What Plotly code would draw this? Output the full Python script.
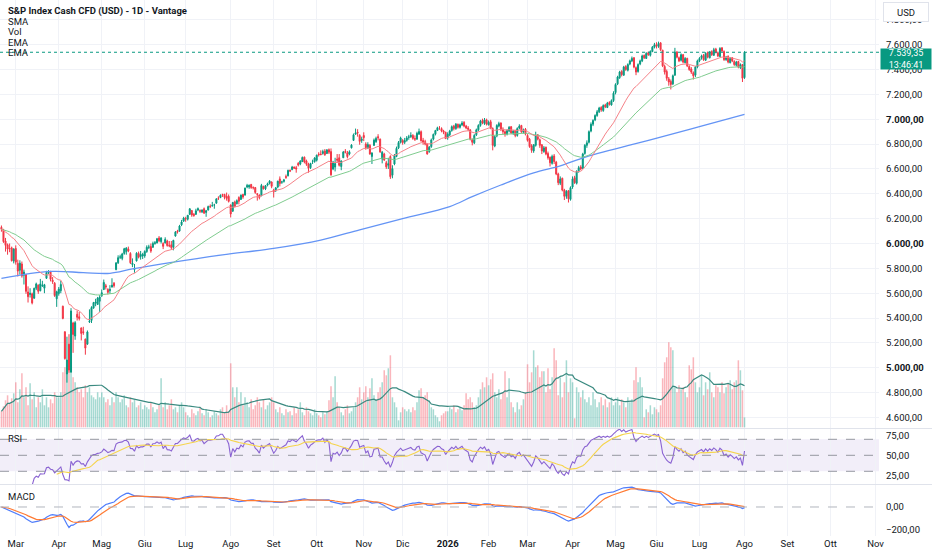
""" S&P Index Cash CFD daily chart, TradingView style, with Plotly """

import pandas as pd
import plotly.graph_objects as go

## -------------------------------------------------------------
## Data: daily bars, 20 Feb 2025 -> 3 Aug 2026

open_ = [
    6130, 6110, 6020, 5990, 5960, 5965, 5860,
    5960, 5840, 5785, 5835, 5745, 5750, 5610, 5590, 5595, 5560, 5640, 5665, 5620, 5660, 5640, 5720, 5765, 5770, 5705, 5680, 5555,
    5597, 5620, 5495, 5290, 4950, 5190, 4965, 5360, 5255, 5430, 5410, 5320, 5290, 5230, 5190, 5370, 5380, 5480, 5520, 5510, 5535,
    5580, 5630, 5660, 5630, 5620, 5650, 5680, 5790, 5845, 5890, 5880, 5920, 5935, 5955, 5920, 5830, 5790, 5860, 5920, 5895, 5900,
    5900, 5935, 5970, 5975, 5970, 6000, 6005, 6045, 6015, 6000, 6005, 6020, 5985, 5990, 5970, 6060, 6100, 6100, 6150, 6180,
    6200, 6195, 6235, 6265, 6235, 6235, 6270, 6265, 6255, 6280, 6250, 6270, 6300, 6305, 6310, 6325, 6365, 6370, 6395, 6395, 6380, 6380,
    6310, 6260, 6335, 6320, 6370, 6355, 6395, 6390, 6455, 6455, 6475, 6450, 6450, 6400, 6390, 6385, 6460, 6440, 6470, 6485, 6495,
    6430, 6430, 6455, 6520, 6495, 6500, 6540, 6545, 6590, 6595, 6615, 6610, 6645, 6640, 6660, 6695, 6665, 6640, 6610, 6660, 6660,
    6670, 6720, 6720, 6725, 6745, 6725, 6755, 6740, 6600, 6615, 6680, 6690, 6620, 6690, 6740, 6730, 6720, 6770, 6830, 6880, 6895, 6870, 6830,
    6870, 6800, 6770, 6790, 6700, 6790, 6820, 6860, 6840, 6680, 6720, 6650, 6630, 6700, 6550, 6640, 6700, 6770, 6815,
    6830, 6815, 6830, 6855, 6860, 6870, 6845, 6840, 6880, 6900, 6830, 6820, 6800, 6740, 6780, 6840, 6880, 6910, 6930, 6925, 6905, 6895,
    6850, 6875, 6910, 6945, 6925, 6960, 6935, 6955, 6975, 6945, 6930, 6915, 6835, 6810, 6875, 6915, 6950, 6990, 6965, 6995,
    6955, 6980, 6925, 6785, 6865, 6945, 6970, 6920, 6900, 6880, 6905, 6940, 6885, 6910, 6870, 6930, 6950, 6895, 6920,
    6870, 6840, 6785, 6745, 6790, 6875, 6835, 6795, 6740, 6775, 6725, 6695, 6645, 6705, 6655, 6560, 6485, 6525, 6430, 6380, 6425, 6355,
    6455, 6530, 6485, 6585, 6615, 6605, 6725, 6790, 6815, 6905, 6960, 6995, 7030, 7060, 7095, 7070, 7115, 7095, 7135, 7115, 7150,
    7215, 7285, 7335, 7385, 7355, 7425, 7395, 7445, 7470, 7495, 7415, 7385, 7445, 7470, 7515, 7490, 7535, 7515, 7545, 7580,
    7600, 7585, 7615, 7555, 7425, 7385, 7325, 7305, 7285, 7355, 7540, 7495, 7475, 7520, 7455, 7490, 7425, 7405, 7375, 7355, 7420,
    7470, 7495, 7515, 7475, 7535, 7495, 7545, 7515, 7565, 7535, 7505, 7575, 7545, 7480, 7505, 7455, 7495, 7465, 7435, 7465, 7415, 7440,
    7335,
]

high = [
    6145, 6118, 6045, 6000, 6000, 5975, 5962,
    5985, 5870, 5865, 5855, 5790, 5755, 5655, 5640, 5605, 5645, 5685, 5670, 5715, 5700, 5675, 5780, 5785, 5780, 5730, 5690, 5620,
    5650, 5700, 5500, 5292, 5250, 5270, 5480, 5370, 5375, 5460, 5450, 5325, 5330, 5235, 5300, 5470, 5495, 5530, 5555, 5570, 5585,
    5630, 5710, 5675, 5640, 5665, 5720, 5690, 5850, 5905, 5910, 5925, 5965, 5970, 5975, 5930, 5880, 5835, 5930, 5935, 5940, 5925,
    5945, 5985, 5990, 6000, 6015, 6020, 6045, 6060, 6050, 6010, 6050, 6030, 6020, 6020, 6030, 6100, 6110, 6150, 6190, 6215,
    6215, 6230, 6285, 6270, 6245, 6280, 6290, 6275, 6275, 6290, 6270, 6305, 6315, 6335, 6320, 6365, 6380, 6395, 6400, 6400, 6410, 6395,
    6315, 6335, 6345, 6355, 6380, 6395, 6400, 6450, 6480, 6475, 6480, 6460, 6455, 6405, 6395, 6480, 6465, 6470, 6490, 6510, 6500,
    6440, 6455, 6505, 6540, 6505, 6520, 6555, 6595, 6595, 6625, 6620, 6625, 6655, 6670, 6700, 6700, 6675, 6650, 6650, 6675, 6695,
    6715, 6735, 6750, 6755, 6760, 6760, 6765, 6765, 6665, 6690, 6720, 6720, 6670, 6745, 6760, 6745, 6750, 6800, 6885, 6925, 6920, 6880, 6860,
    6895, 6815, 6815, 6800, 6735, 6845, 6860, 6880, 6845, 6745, 6730, 6665, 6690, 6710, 6630, 6720, 6780, 6825, 6860,
    6840, 6850, 6865, 6875, 6895, 6880, 6870, 6900, 6925, 6910, 6850, 6835, 6805, 6785, 6845, 6885, 6915, 6940, 6945, 6935, 6915, 6900,
    6895, 6915, 6950, 6955, 6970, 6965, 6965, 6985, 6985, 6955, 6945, 6920, 6845, 6880, 6925, 6960, 6995, 7005, 7010, 7005,
    6990, 6995, 6935, 6870, 6960, 6980, 6975, 6935, 6910, 6920, 6945, 6945, 6915, 6915, 6935, 6960, 6955, 6925, 6930,
    6880, 6850, 6800, 6800, 6900, 6880, 6845, 6800, 6785, 6780, 6740, 6700, 6715, 6720, 6665, 6570, 6540, 6530, 6440, 6430, 6430, 6460,
    6540, 6545, 6590, 6625, 6630, 6730, 6800, 6830, 6910, 6975, 7000, 7040, 7075, 7100, 7105, 7120, 7125, 7140, 7145, 7160, 7225,
    7290, 7350, 7390, 7395, 7430, 7435, 7450, 7480, 7505, 7500, 7425, 7450, 7480, 7520, 7520, 7540, 7545, 7555, 7590, 7615,
    7620, 7625, 7620, 7560, 7440, 7400, 7340, 7320, 7360, 7575, 7550, 7505, 7530, 7525, 7500, 7495, 7435, 7420, 7385, 7430, 7480,
    7500, 7520, 7525, 7540, 7545, 7550, 7555, 7575, 7575, 7545, 7580, 7580, 7555, 7510, 7515, 7500, 7500, 7475, 7470, 7470, 7450, 7445,
    7548,
]

low = [
    6095, 6005, 5935, 5910, 5930, 5855, 5840,
    5830, 5735, 5750, 5725, 5670, 5595, 5525, 5565, 5510, 5555, 5625, 5595, 5615, 5650, 5600, 5715, 5755, 5695, 5675, 5570, 5490,
    5580, 5600, 5390, 5065, 4880, 4960, 4960, 5120, 5225, 5380, 5380, 5220, 5265, 5105, 5185, 5360, 5360, 5475, 5495, 5505, 5450,
    5570, 5625, 5630, 5590, 5595, 5645, 5645, 5785, 5835, 5875, 5865, 5910, 5910, 5930, 5835, 5810, 5765, 5855, 5880, 5870, 5875,
    5885, 5925, 5955, 5925, 5965, 5990, 6000, 6010, 6000, 5955, 6000, 5975, 5970, 5955, 5945, 6055, 6080, 6095, 6140, 6175,
    6175, 6185, 6230, 6215, 6215, 6230, 6260, 6245, 6245, 6240, 6215, 6265, 6285, 6295, 6280, 6320, 6350, 6365, 6375, 6355, 6345, 6330,
    6210, 6255, 6290, 6315, 6315, 6350, 6360, 6385, 6445, 6440, 6440, 6435, 6400, 6345, 6355, 6380, 6435, 6430, 6460, 6475, 6445,
    6370, 6415, 6445, 6460, 6480, 6490, 6520, 6540, 6575, 6590, 6600, 6570, 6620, 6630, 6655, 6645, 6625, 6570, 6600, 6640, 6650,
    6660, 6700, 6710, 6715, 6705, 6720, 6720, 6545, 6590, 6580, 6650, 6620, 6590, 6690, 6725, 6685, 6710, 6765, 6825, 6875, 6860, 6795, 6810,
    6825, 6755, 6760, 6715, 6640, 6785, 6810, 6830, 6730, 6645, 6665, 6600, 6600, 6520, 6525, 6630, 6695, 6760, 6805,
    6795, 6800, 6820, 6835, 6850, 6835, 6825, 6835, 6875, 6820, 6795, 6790, 6715, 6730, 6770, 6830, 6870, 6905, 6915, 6895, 6880, 6840,
    6835, 6865, 6900, 6910, 6915, 6925, 6925, 6945, 6935, 6920, 6905, 6830, 6790, 6800, 6865, 6905, 6940, 6960, 6955, 6950,
    6950, 6920, 6750, 6775, 6855, 6935, 6905, 6880, 6860, 6870, 6895, 6880, 6875, 6855, 6860, 6920, 6890, 6885, 6870,
    6820, 6770, 6730, 6730, 6780, 6830, 6770, 6720, 6730, 6710, 6675, 6620, 6635, 6640, 6550, 6470, 6470, 6420, 6350, 6360, 6330, 6345,
    6440, 6480, 6475, 6570, 6590, 6600, 6715, 6770, 6805, 6895, 6945, 6985, 7020, 7050, 7060, 7060, 7090, 7090, 7110, 7110, 7140,
    7200, 7275, 7325, 7345, 7350, 7390, 7385, 7435, 7460, 7410, 7355, 7375, 7435, 7460, 7485, 7485, 7510, 7505, 7540, 7570,
    7570, 7575, 7550, 7420, 7360, 7310, 7270, 7240, 7275, 7350, 7490, 7460, 7465, 7450, 7450, 7420, 7390, 7365, 7320, 7340, 7410,
    7460, 7480, 7470, 7470, 7490, 7490, 7510, 7510, 7530, 7500, 7500, 7540, 7470, 7470, 7450, 7450, 7460, 7430, 7425, 7410, 7405, 7300,
    7325,
]

close = [
    6115, 6015, 5985, 5955, 5958, 5862, 5955,
    5850, 5778, 5842, 5739, 5770, 5615, 5572, 5599, 5522, 5639, 5675, 5615, 5675, 5663, 5668, 5767, 5777, 5712, 5693, 5581, 5612,
    5633, 5671, 5397, 5074, 5062, 4982, 5457, 5268, 5363, 5406, 5397, 5276, 5283, 5158, 5288, 5376, 5485, 5525, 5529, 5561, 5569,
    5604, 5687, 5650, 5607, 5631, 5664, 5660, 5844, 5886, 5892, 5916, 5958, 5964, 5940, 5845, 5842, 5802, 5922, 5889, 5912, 5912,
    5936, 5970, 5971, 5939, 6000, 6006, 6038, 6022, 6045, 5977, 6033, 5983, 5981, 5967, 6025, 6092, 6092, 6141, 6173, 6205,
    6198, 6227, 6279, 6230, 6226, 6263, 6280, 6260, 6269, 6244, 6264, 6297, 6297, 6306, 6310, 6359, 6363, 6389, 6390, 6371, 6363, 6339,
    6238, 6330, 6299, 6345, 6340, 6389, 6374, 6446, 6466, 6469, 6450, 6449, 6411, 6396, 6370, 6467, 6440, 6466, 6481, 6502, 6460,
    6416, 6448, 6502, 6482, 6495, 6512, 6532, 6588, 6584, 6615, 6607, 6600, 6631, 6664, 6693, 6657, 6638, 6605, 6644, 6661, 6688,
    6711, 6715, 6716, 6740, 6715, 6753, 6735, 6553, 6655, 6644, 6671, 6630, 6664, 6736, 6735, 6699, 6738, 6792, 6875, 6891, 6890, 6822, 6840,
    6852, 6771, 6796, 6720, 6728, 6832, 6846, 6851, 6737, 6734, 6672, 6617, 6642, 6538, 6603, 6705, 6766, 6813, 6849,
    6812, 6829, 6850, 6857, 6870, 6846, 6840, 6887, 6901, 6827, 6816, 6800, 6721, 6775, 6834, 6878, 6909, 6932, 6930, 6905, 6896, 6845,
    6880, 6905, 6940, 6925, 6960, 6935, 6955, 6970, 6945, 6930, 6920, 6840, 6815, 6870, 6915, 6950, 6985, 6970, 6995, 6960,
    6975, 6930, 6790, 6860, 6950, 6965, 6920, 6900, 6880, 6910, 6935, 6890, 6905, 6870, 6925, 6945, 6900, 6915, 6880,
    6830, 6780, 6750, 6795, 6870, 6840, 6790, 6745, 6770, 6720, 6690, 6650, 6700, 6660, 6560, 6490, 6520, 6430, 6380, 6420, 6360, 6450,
    6520, 6490, 6580, 6610, 6600, 6720, 6790, 6810, 6900, 6960, 6990, 7030, 7060, 7090, 7075, 7110, 7100, 7130, 7120, 7150, 7210,
    7280, 7340, 7380, 7360, 7420, 7400, 7440, 7470, 7490, 7420, 7380, 7440, 7470, 7510, 7495, 7530, 7520, 7545, 7580, 7600,
    7590, 7610, 7560, 7430, 7380, 7330, 7300, 7280, 7350, 7540, 7500, 7470, 7520, 7460, 7490, 7430, 7400, 7380, 7350, 7420, 7470,
    7490, 7510, 7480, 7530, 7500, 7540, 7520, 7560, 7540, 7510, 7570, 7550, 7480, 7500, 7460, 7490, 7470, 7440, 7460, 7420, 7440, 7330,
    7539.35,
]

# volume, in the chart's own (arbitrary) units
volume = [
    16, 21, 27, 32, 24, 29, 34,
    45, 25, 38, 54, 30, 40, 22, 44, 28, 35, 20, 30, 25, 38, 22, 30, 20, 28, 24, 35, 30,
    30, 35, 55, 60, 62, 58, 61, 50, 45, 40, 35, 38, 30, 42, 35, 40, 32, 30, 28, 35, 30,
    35, 30, 25, 28, 22, 30, 25, 35, 30, 25, 28, 32, 22, 20, 30, 25, 28, 20, 22, 25, 18,
    22, 20, 18, 25, 20, 15, 18, 22, 49, 20, 25, 18, 22, 28, 18, 20, 15, 22, 25, 20,
    15, 12, 10, 18, 14, 12, 16, 20, 14, 12, 18, 15, 10, 12, 16, 14, 12, 18, 20, 15, 22, 16,
    64, 40, 30, 40, 25, 35, 22, 30, 25, 20, 28, 18, 22, 30, 25, 20, 28, 18, 22, 25, 30,
    25, 18, 15, 20, 14, 12, 18, 15, 16, 12, 20, 14, 18, 25, 15, 12, 20, 16, 14, 12, 18,
    14, 12, 10, 15, 13, 16, 27, 41, 30, 51, 25, 20, 15, 12, 18, 22, 14, 16, 20, 25, 30, 40, 28,
    35, 41, 30, 39, 49, 32, 28, 35, 40, 45, 57, 52, 59, 72, 30, 25, 20, 7, 15,
    20, 18, 16, 18, 15, 20, 17, 25, 37, 39, 30, 32, 35, 27, 20, 18, 12, 10, 6, 12, 14, 16,
    16, 20, 18, 22, 15, 18, 20, 17, 22, 34, 28, 30, 25, 20, 22, 30, 38, 45, 40, 50,
    42, 48, 54, 35, 30, 38, 28, 35, 56, 30, 49, 25, 20, 15, 25, 18, 22, 28, 35,
    63, 45, 55, 77, 60, 62, 50, 56, 56, 35, 59, 38, 50, 79, 67, 32, 50, 30, 45, 67, 35, 49,
    45, 9, 40, 35, 30, 37, 28, 25, 30, 22, 35, 28, 20, 25, 30, 22, 28, 20, 25, 30, 22,
    25, 30, 22, 28, 25, 20, 30, 25, 28, 47, 60, 45, 50, 40, 10, 18, 15, 22, 13, 20,
    18, 15, 22, 49, 65, 70, 85, 80, 77, 40, 35, 42, 38, 40, 35, 30, 62, 58, 70, 45, 35,
    40, 52, 32, 45, 38, 55, 35, 30, 42, 40, 35, 45, 34, 40, 44, 47, 38, 45, 47, 67, 57, 37,
    10,
]

# long SMA (blue) read at a few bars, its history starts before the chart
sma_bar = [0, 24, 40, 53, 64, 84, 108, 133, 156, 175, 196, 219, 230, 244, 260, 273, 286, 317, 341, 363]
sma_val = [5720, 5775, 5766, 5760, 5795, 5850, 5908, 5961, 6028, 6110, 6200, 6297, 6377, 6471, 6568, 6625, 6700, 6835, 6940, 7040]

# first bar of each month on the bar axis
month_ticks = [7, 28, 49, 70, 90, 112, 133, 154, 177, 196, 218, 238, 257, 279, 300, 320, 341, 363, 384, 405, 427]
month_labels = ["Mar", "Apr", "Mag", "Giu", "Lug", "Ago", "Set", "Ott", "Nov", "Dic", "<b>2026</b>",
                "Feb", "Mar", "Apr", "Mag", "Giu", "Lug", "Ago", "Set", "Ott", "Nov"]

price_ticks = list(range(4600, 7801, 200))
last_time = "13:46:41"

assert len(open_) == len(high) == len(low) == len(close) == len(volume), \
    (len(open_), len(high), len(low), len(close), len(volume))

## -------------------------------------------------------------
## Indicators

UP = "#089981"
DOWN = "#F23645"

bars = list(range(len(close)))
c = pd.Series(close, dtype=float)

ema_fast = c.ewm(span=20, adjust=False).mean()
ema_slow = c.ewm(span=50, adjust=False).mean()
vol_ma = pd.Series(volume, dtype=float).rolling(20, min_periods=1).mean()

delta = c.diff()
gain = delta.clip(lower=0).ewm(alpha=1 / 14, adjust=False, min_periods=14).mean()
loss = (-delta.clip(upper=0)).ewm(alpha=1 / 14, adjust=False, min_periods=14).mean()
rsi = 100 - 100 / (1 + gain / loss)
rsi_ma = rsi.rolling(14).mean()

macd = c.ewm(span=12, adjust=False).mean() - c.ewm(span=26, adjust=False).mean()
signal = macd.ewm(span=9, adjust=False).mean()


def it_num(v):
    """ 7539.35 -> '7.539,35' """
    return f"{v:,.2f}".replace(",", "X").replace(".", ",").replace("X", ".")


price_text = [f"<b>{it_num(v)}</b>" if v % 1000 == 0 else it_num(v) for v in price_ticks]
vol_colors = ["rgba(8,153,129,0.36)" if cl >= op else "rgba(242,54,69,0.36)"
              for op, cl in zip(open_, close)]

## -------------------------------------------------------------
## Traces

traces = [
    go.Bar(x=bars, y=volume, marker=dict(color=vol_colors, line=dict(width=0)),
           yaxis="y", hoverinfo="skip"),
    go.Scatter(x=bars, y=vol_ma, mode="lines", line=dict(color="#3a8a80", width=1.2),
               yaxis="y", hoverinfo="skip"),
    go.Candlestick(x=bars, open=open_, high=high, low=low, close=close,
                   increasing=dict(line=dict(color=UP, width=1), fillcolor=UP),
                   decreasing=dict(line=dict(color=DOWN, width=1), fillcolor=DOWN),
                   whiskerwidth=0, yaxis="y2", hoverinfo="skip"),
    go.Scatter(x=sma_bar, y=sma_val, mode="lines", line=dict(color="#6494f5", width=1.3, shape="spline"),
               yaxis="y2", hoverinfo="skip"),
    go.Scatter(x=bars, y=ema_slow, mode="lines", line=dict(color="#80cc8f", width=1),
               yaxis="y2", hoverinfo="skip"),
    go.Scatter(x=bars, y=ema_fast, mode="lines", line=dict(color="#f58288", width=1),
               yaxis="y2", hoverinfo="skip"),
    go.Scatter(x=bars, y=rsi, mode="lines", line=dict(color="#8a63d2", width=1.1),
               yaxis="y3", hoverinfo="skip"),
    go.Scatter(x=bars, y=rsi_ma, mode="lines", line=dict(color="#f5d44c", width=1.1),
               yaxis="y3", hoverinfo="skip"),
    go.Scatter(x=bars, y=macd, mode="lines", line=dict(color="#4f7dfb", width=1.2),
               yaxis="y4", hoverinfo="skip"),
    go.Scatter(x=bars, y=signal, mode="lines", line=dict(color="#ff7a33", width=1.2),
               yaxis="y4", hoverinfo="skip"),
]

## -------------------------------------------------------------
## Layout: price pane (with volume), RSI pane, MACD pane

H_PLOT = 536.0   # plot area height in px
W_PLOT = 879.0   # plot area width in px


def py(px):
    """ pixel row from top -> paper y """
    return 1 - px / H_PLOT


grid = "#f0f2f7"
axis_font = dict(size=9.5, color="#131722")

shapes = [
    # RSI band and levels
    dict(type="rect", xref="paper", x0=0, x1=1, yref="y3", y0=30, y1=70,
         fillcolor="rgba(126,87,194,0.10)", line=dict(width=0), layer="below"),
    *[dict(type="line", xref="paper", x0=0, x1=1, yref="y3", y0=lv, y1=lv,
           line=dict(color="#9598a1", width=1, dash="dash")) for lv in (30, 50, 70)],
    # MACD zero line
    dict(type="line", xref="paper", x0=0, x1=1, yref="y4", y0=0, y1=0,
         line=dict(color="#b2b5be", width=1, dash="dash")),
    # last price line
    dict(type="line", xref="paper", x0=0, x1=1, yref="y2", y0=close[-1], y1=close[-1],
         line=dict(color=UP, width=1, dash="dot")),
    # pane separators
    dict(type="line", xref="paper", x0=0, x1=932 / W_PLOT, yref="paper", y0=py(428.5), y1=py(428.5),
         line=dict(color="#e0e3eb", width=1)),
    dict(type="line", xref="paper", x0=0, x1=932 / W_PLOT, yref="paper", y0=py(484.5), y1=py(484.5),
         line=dict(color="#e0e3eb", width=1)),
]

legend_lines = [("<b>S&amp;P Index Cash CFD (USD) - 1D - Vantage</b>", 10.7),
                ("SMA", 21.3), ("Vol", 32.0), ("EMA", 42.3), ("EMA", 53.0),
                ("RSI", 438.0), ("MACD", 496.0)]
annotations = [dict(xref="paper", yref="paper", x=6 / W_PLOT, y=py(yy), xanchor="left", yanchor="middle",
                    text=t, showarrow=False, font=dict(size=9.5, color="#131722"))
               for t, yy in legend_lines]
annotations += [
    dict(xref="paper", yref="paper", x=905.5 / W_PLOT, y=py(11.5), xanchor="center", yanchor="middle",
         text="USD", showarrow=False, font=dict(size=9.5, color="#131722"),
         bgcolor="white", bordercolor="#e0e3eb", borderwidth=1, borderpad=2, width=40, height=14),
    dict(xref="paper", yref="y2", x=880 / W_PLOT, y=close[-1], xanchor="left", yanchor="middle", yshift=-6.5,
         text=f"{it_num(close[-1])}<br>{last_time}", showarrow=False, align="center",
         font=dict(size=9, color="white"), bgcolor=UP, borderpad=0, width=50, height=20),
]

layout = go.Layout(
    width=932, height=550,
    margin=dict(l=0, r=932 - W_PLOT, t=0, b=550 - H_PLOT),
    paper_bgcolor="white", plot_bgcolor="white",
    showlegend=False, bargap=0.25,
    font=dict(family="Roboto", size=9.5, color="#131722"),
    xaxis=dict(range=[-0.7, 428.7], tickmode="array", tickvals=month_ticks, ticktext=month_labels,
               showgrid=True, gridcolor=grid, zeroline=False, showline=False, ticks="",
               anchor="y4", tickfont=axis_font, rangeslider=dict(visible=False)),
    # volume: hidden base axis of the price pane
    yaxis=dict(domain=[py(428), 1], range=[-0.7, 427.3], visible=False, showgrid=False),
    yaxis2=dict(overlaying="y", side="right", anchor="x", range=[4515, 7960],
                tickmode="array", tickvals=price_ticks, ticktext=price_text,
                showgrid=True, gridcolor=grid, zeroline=False, ticks="", ticklabelstandoff=6,
                tickfont=axis_font),
    yaxis3=dict(domain=[py(484), py(429)], side="right", anchor="x", range=[14.1, 82.9],
                tickmode="array", tickvals=[25, 50, 75], ticktext=["25,00", "50,00", "75,00"],
                showgrid=False, zeroline=False, ticks="", ticklabelstandoff=6, tickfont=axis_font),
    yaxis4=dict(domain=[0, py(485)], side="right", anchor="x", range=[-252, 191],
                tickmode="array", tickvals=[-200, 0], ticktext=["\u2212200,00", "0,00"],
                showgrid=False, zeroline=False, ticks="", ticklabelstandoff=6, tickfont=axis_font),
    shapes=shapes,
    annotations=annotations,
)

fig = go.Figure(data=traces, layout=layout)
# the page's default body margin would push the 932x550 figure off the window
fig.write_html("out.html", config={"displayModeBar": False},
               post_script="document.body.style.margin = '0';")
